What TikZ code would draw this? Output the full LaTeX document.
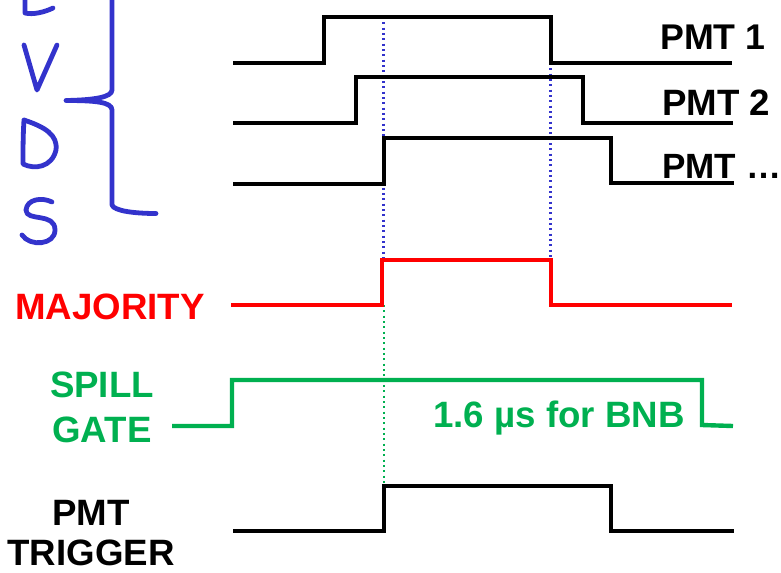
\documentclass[tikz,border=0pt]{standalone}
\usepackage{fontspec}
\setmainfont{Liberation Sans}
\definecolor{sigred}{HTML}{FF0000}
\definecolor{siggreen}{HTML}{00B050}
\definecolor{penblue}{HTML}{3333CC}
\tikzset{
  wave/.style={line width=3.3pt,line join=miter},
  guide/.style={line width=1.6pt,dash pattern=on 1.5pt off 2.5pt},
  pen/.style={penblue,line width=3.6pt,line cap=round,line join=round},
  lab/.style={font=\fontsize{27.5}{32}\selectfont\bfseries,inner sep=0pt,anchor=base west},
  labc/.style={font=\fontsize{27.5}{32}\selectfont\bfseries,inner sep=0pt,anchor=base},
}
\begin{document}
\begin{tikzpicture}[x=0.75pt,y=-0.75pt]
\useasboundingbox (0,0) rectangle (781,572);
% guides
\draw[guide,penblue] (383.5,17) -- (383.5,260);
\draw[guide,penblue] (550.5,63) -- (550.5,260);
\draw[guide,siggreen] (384,305) -- (384,486);
% waves
\draw[wave] (233,63) -- (324,63) -- (324,17) -- (551,17) -- (551,63) -- (732,63);
\draw[wave] (233,123) -- (356,123) -- (356,77) -- (583,77) -- (583,123) -- (733,123);
\draw[wave] (233,184) -- (384,184) -- (384,138) -- (611,138) -- (611,183) -- (734,183);
\draw[wave,sigred] (231,305) -- (382,305) -- (382,260) -- (551,260) -- (551,305) -- (732,305);
\draw[wave,siggreen] (172,426) -- (232,426) -- (232,380) -- (702,380) -- (702,425) -- (733,426);
\draw[wave] (233,531) -- (384,531) -- (384,486) -- (611,486) -- (611,531) -- (734,531);
% labels
\node[lab,font=\fontsize{26.8}{32}\selectfont\bfseries] (p1) at (660,49) {PMT 1};
\node[lab] (p2) at (662,115) {PMT 2};
\node[lab,font=\fontsize{26.3}{32}\selectfont\bfseries] (p3) at (662,178) {PMT …};
\node[labc,sigred] (maj) at (110,319) {MAJORITY};
\node[labc,siggreen] (sp) at (102,397) {SPILL};
\node[labc,siggreen] (ga) at (102,442) {GATE};
\node[labc,siggreen] (bnb) at (559,427) {1.6 µs for BNB};
\node[labc] (tr1) at (91,525) {PMT};
\node[labc] (tr2) at (91,565) {TRIGGER};
% hand-drawn letters and brace
\draw[pen] (25,-4) -- (25,13) .. controls (33,15) and (45,12) .. (53,8);
\draw[pen] (24,45) -- (37,90) -- (57,45);
\draw[pen] (24,120) .. controls (23,135) and (23,150) .. (23,164) .. controls (35,170) and (52,167) .. (56,150) .. controls (58,135) and (45,127) .. (24,120);
\draw[pen] (52,202) .. controls (42,197) and (27,199) .. (26,210) .. controls (26,222) and (55,212) .. (55,230) .. controls (55,245) and (30,247) .. (22,235);
\draw[pen] (112,-4) -- (112,90) .. controls (112,97) and (95,100) .. (66,100.5) .. controls (95,100.5) and (112,102) .. (112,110) -- (112,205) .. controls (114,211) and (135,213.5) .. (156,213.5);
\end{tikzpicture}
\end{document}
